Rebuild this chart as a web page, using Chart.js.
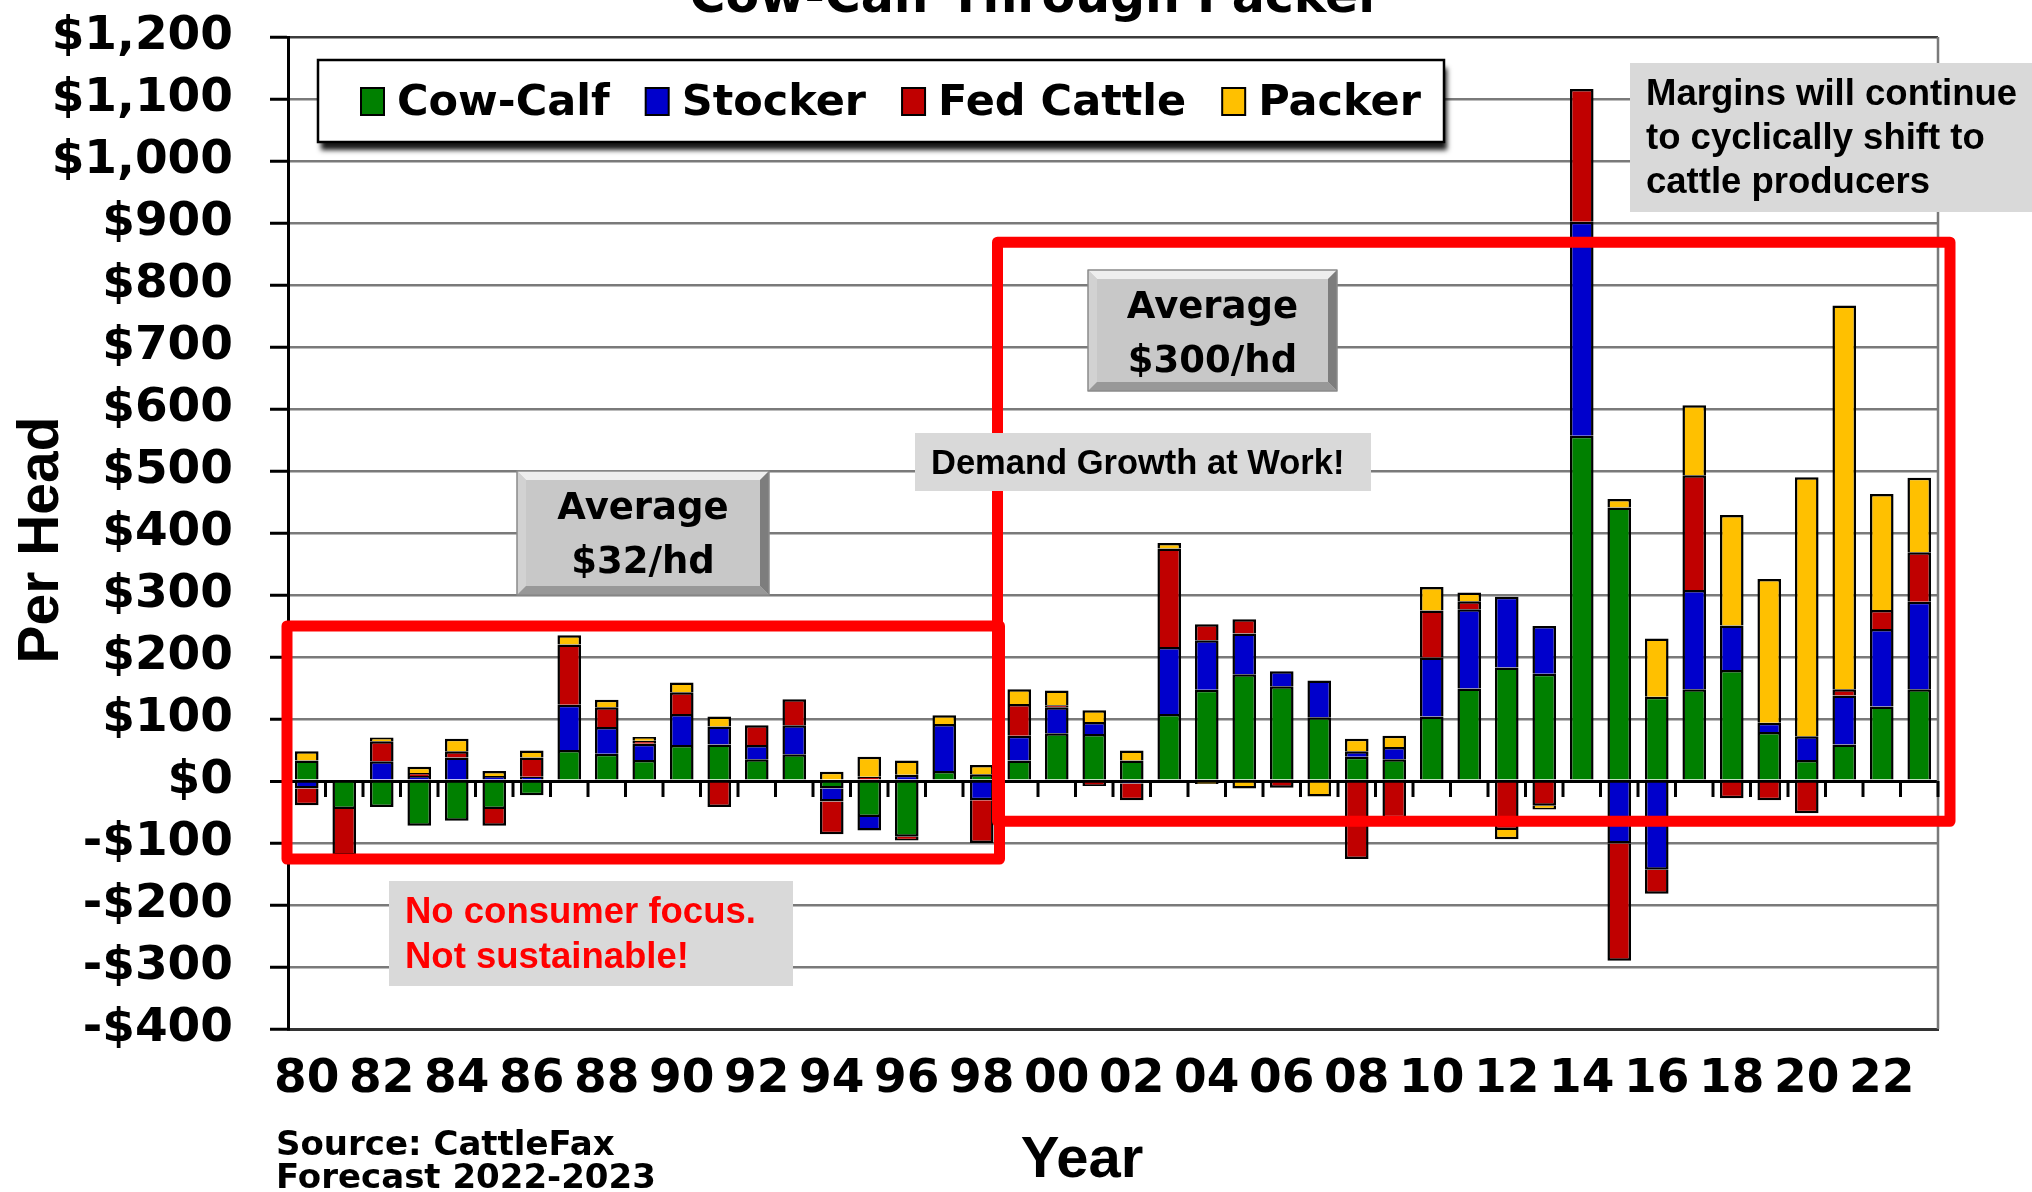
<!DOCTYPE html>
<html>
<head>
<meta charset="utf-8">
<title>Cow-Calf Through Packer</title>
<script src="https://cdn.jsdelivr.net/npm/chart.js@4.4.1/dist/chart.umd.min.js"></script>
<style>
  html, body { margin: 0; padding: 0; background: #fff; }
  #wrap { width: 2032px; height: 1192px; }
</style>
</head>
<body>
<div id="wrap"><canvas id="marginChart" width="2032" height="1192"></canvas></div>
<script>
// margins per head by sector, 1980-2023 (2022-2023 forecast)
var years = ['80','81','82','83','84','85','86','87','88','89',
             '90','91','92','93','94','95','96','97','98','99',
             '00','01','02','03','04','05','06','07','08','09',
             '10','11','12','13','14','15','16','17','18','19',
             '20','21','22','23'];

var cowCalf = [33,-45,-42,-72,-64,-45,-23,50,44,34,
               58,59,35,43,-12,-58,-90,16,11,33,
               77,76,33,108,147,172,153,103,39,35,
               104,149,183,173,557,441,136,148,179,79,
               34,59,120,148];

var stocker = [-12,0,32,8,38,8,7,73,43,26,
               50,29,23,47,-21,-22,10,76,-31,40,
               42,19,-4,108,80,66,24,59,9,20,
               95,128,114,77,345,-101,-143,160,72,15,
               38,79,125,141];

var fedCattle = [-27,-75,32,5,10,-27,31,97,32,5,
                 35,-42,32,42,-53,7,-6,0,-69,51,
                 3,-8,-27,159,26,23,-11,0,-126,-60,
                 76,13,-79,-40,214,-189,-39,185,-28,-31,
                 -52,10,31,80];

var packer = [15,0,6,10,20,8,11,15,12,6,
              16,16,0,0,15,32,23,14,15,24,
              24,19,16,9,-5,-12,0,-25,20,18,
              38,14,-15,-6,0,14,94,113,178,232,
              418,619,187,120];

var seriesNames = ['Cow-Calf', 'Stocker', 'Fed Cattle', 'Packer'];
var seriesColors = ['#008000', '#0000cc', '#c00000', '#ffc000'];

var yMin = -400, yMax = 1200, yStep = 100;

var boldWide = 'DejaVu Sans';
var boldArial = 'Liberation Sans, Arial, sans-serif';

function money(v) {
    var s = '$' + Math.abs(v).toLocaleString('en-US');
    return v < 0 ? '-' + s : s;
}

function bevelBox(ctx, x, y, w, h, lines) {
    var b = 9;
    ctx.save();
    ctx.fillStyle = '#c8c8c8';
    ctx.fillRect(x, y, w, h);
    ctx.fillStyle = '#eeeeee';
    ctx.beginPath(); ctx.moveTo(x, y); ctx.lineTo(x + w, y); ctx.lineTo(x + w - b, y + b); ctx.lineTo(x + b, y + b); ctx.closePath(); ctx.fill();
    ctx.fillStyle = '#d2d2d2';
    ctx.beginPath(); ctx.moveTo(x, y); ctx.lineTo(x + b, y + b); ctx.lineTo(x + b, y + h - b); ctx.lineTo(x, y + h); ctx.closePath(); ctx.fill();
    ctx.fillStyle = '#7d7d7d';
    ctx.beginPath(); ctx.moveTo(x + w, y); ctx.lineTo(x + w, y + h); ctx.lineTo(x + w - b, y + h - b); ctx.lineTo(x + w - b, y + b); ctx.closePath(); ctx.fill();
    ctx.fillStyle = '#989898';
    ctx.beginPath(); ctx.moveTo(x, y + h); ctx.lineTo(x + w, y + h); ctx.lineTo(x + w - b, y + h - b); ctx.lineTo(x + b, y + h - b); ctx.closePath(); ctx.fill();
    ctx.strokeStyle = '#8a8a8a';
    ctx.lineWidth = 1.5;
    ctx.strokeRect(x, y, w, h);
    ctx.fillStyle = '#000';
    ctx.font = 'bold 37px ' + boldWide;
    ctx.textAlign = 'center';
    ctx.textBaseline = 'alphabetic';
    ctx.fillText(lines[0], x + w / 2, y + 48);
    ctx.fillText(lines[1], x + w / 2, y + 102);
    ctx.restore();
}

function flatBox(ctx, x, y, w, h, lines, color, size, lineGap, padX, firstBase) {
    ctx.save();
    ctx.fillStyle = '#d9d9d9';
    ctx.fillRect(x, y, w, h);
    ctx.fillStyle = color;
    ctx.font = 'bold ' + size + 'px ' + boldArial;
    ctx.textAlign = 'left';
    ctx.textBaseline = 'alphabetic';
    lines.forEach(function (t, i) {
        ctx.fillText(t, x + padX, y + firstBase + i * lineGap);
    });
    ctx.restore();
}

// frames, callouts, legend and titles drawn over the plot
var overlay = {
    id: 'overlay',
    afterDraw: function (chart) {
        var ctx = chart.ctx;
        var area = chart.chartArea;
        var xs = chart.scales.x, ys = chart.scales.y;
        var step = xs.getPixelForValue(1) - xs.getPixelForValue(0);
        var y0 = ys.getPixelForValue(0);

        ctx.save();

        // right edge of the plot
        ctx.strokeStyle = '#7a7a7a';
        ctx.lineWidth = 2.5;
        ctx.beginPath();
        ctx.moveTo(area.right, area.top);
        ctx.lineTo(area.right, area.bottom);
        ctx.stroke();

        // category tick marks hanging off the zero line
        ctx.strokeStyle = '#000';
        ctx.lineWidth = 3;
        for (var i = 1; i <= years.length; i++) {
            var bx = xs.getPixelForValue(i - 1) + step / 2;
            ctx.beginPath();
            ctx.moveTo(bx, y0);
            ctx.lineTo(bx, y0 + 16);
            ctx.stroke();
        }

        // legend box
        ctx.save();
        ctx.shadowColor = 'rgba(0,0,0,0.9)';
        ctx.shadowOffsetX = 3;
        ctx.shadowOffsetY = 8;
        ctx.shadowBlur = 5;
        ctx.fillStyle = '#fff';
        ctx.fillRect(318, 60, 1126, 82);
        ctx.restore();
        ctx.strokeStyle = '#000';
        ctx.lineWidth = 2.5;
        ctx.strokeRect(318, 60, 1126, 82);
        ctx.font = 'bold 43px ' + boldWide;
        ctx.textBaseline = 'alphabetic';
        ctx.textAlign = 'left';
        var lx = 361;
        chart.data.datasets.forEach(function (ds) {
            ctx.fillStyle = ds.backgroundColor;
            ctx.fillRect(lx, 88, 23, 27);
            ctx.lineWidth = 2;
            ctx.strokeStyle = '#000';
            ctx.strokeRect(lx, 88, 23, 27);
            ctx.fillStyle = '#000';
            ctx.fillText(ds.label, lx + 36, 115);
            lx += 36 + ctx.measureText(ds.label).width + 36;
        });

        // red frames around the two periods
        var split = xs.getPixelForValue(18) + step / 2;
        ctx.strokeStyle = '#ff0000';
        ctx.lineWidth = 11;
        ctx.lineJoin = 'round';
        var t1 = ys.getPixelForValue(250), b1 = ys.getPixelForValue(-126);
        ctx.strokeRect(area.left - 1, t1, split - area.left, b1 - t1);
        var t2 = ys.getPixelForValue(869), b2 = ys.getPixelForValue(-65);
        ctx.strokeRect(split - 3, t2, area.right + 12 - split + 3, b2 - t2);

        // callouts
        bevelBox(ctx, 517, 471, 252, 124, ['Average', '$32/hd']);
        bevelBox(ctx, 1088, 270, 249, 121, ['Average', '$300/hd']);
        flatBox(ctx, 915, 433, 456, 58, ['Demand Growth at Work!'], '#000', 34.5, 0, 16, 41);
        flatBox(ctx, 389, 881, 404, 105, ['No consumer focus.', 'Not sustainable!'], '#ff0000', 36.5, 45, 16, 42);
        flatBox(ctx, 1630, 63, 402, 149, ['Margins will continue', 'to cyclically shift to', 'cattle producers'], '#000', 36.5, 44, 16, 42);

        // chart title, mostly above the top edge
        ctx.fillStyle = '#000';
        ctx.textAlign = 'center';
        ctx.textBaseline = 'alphabetic';
        ctx.font = 'bold 49px ' + boldWide;
        ctx.fillText('Cow-Calf Through Packer', 1036, 12);

        // axis titles and source note
        ctx.font = 'bold 58px ' + boldArial;
        ctx.fillText('Year', 1082, 1177);
        ctx.save();
        ctx.translate(58, 540);
        ctx.rotate(-Math.PI / 2);
        ctx.font = 'bold 57px ' + boldArial;
        ctx.fillText('Per Head', 0, 0);
        ctx.restore();
        ctx.textAlign = 'left';
        ctx.font = 'bold 34px ' + boldWide;
        ctx.fillText('Source: CattleFax', 276, 1155);
        ctx.fillText('Forecast 2022-2023', 276, 1188);

        ctx.restore();
    }
};

var datasets = [cowCalf, stocker, fedCattle, packer].map(function (vals, i) {
    return {
        label: seriesNames[i],
        data: vals,
        backgroundColor: seriesColors[i],
        borderColor: '#000',
        borderWidth: 2.5,
        barPercentage: 0.63,
        categoryPercentage: 1.0
    };
});

new Chart(document.getElementById('marginChart').getContext('2d'), {
    type: 'bar',
    data: { labels: years, datasets: datasets },
    plugins: [overlay],
    options: {
        responsive: false,
        animation: false,
        devicePixelRatio: 1,
        events: [],
        layout: { padding: { top: 37, right: 94, left: 0, bottom: 0 } },
        plugins: {
            legend: { display: false },
            tooltip: { enabled: false },
            title: { display: false }
        },
        scales: {
            x: {
                stacked: true,
                offset: true,
                grid: { display: false, drawTicks: false, tickLength: 0 },
                border: { display: true, color: '#333', width: 3 },
                ticks: {
                    autoSkip: false,
                    maxRotation: 0,
                    minRotation: 0,
                    padding: 23,
                    color: '#000',
                    font: { family: boldWide, weight: 'bold', size: 47 },
                    callback: function (v, i) { return i % 2 === 0 ? years[i] : ''; }
                },
                afterFit: function (scale) {
                    scale.height = 163;
                    scale.paddingLeft = 0;
                    scale.paddingRight = 0;
                }
            },
            y: {
                stacked: true,
                min: yMin,
                max: yMax,
                grid: {
                    color: function (c) {
                        if (c.tick.value === 0) return '#000';
                        if (c.tick.value === yMax || c.tick.value === yMin) return '#3c3c3c';
                        return '#7a7a7a';
                    },
                    lineWidth: function (c) { return c.tick.value === 0 ? 3 : 2.5; },
                    drawTicks: true,
                    tickLength: 18,
                    tickColor: '#000',
                    tickWidth: 3
                },
                border: { display: true, color: '#000', width: 3 },
                ticks: {
                    stepSize: yStep,
                    padding: 37,
                    color: '#000',
                    font: { family: boldWide, weight: 'bold', size: 47 },
                    callback: money
                },
                afterFit: function (scale) {
                    scale.width = 288;
                    scale.paddingTop = 0;
                    scale.paddingBottom = 0;
                }
            }
        }
    }
});
</script>
</body>
</html>
